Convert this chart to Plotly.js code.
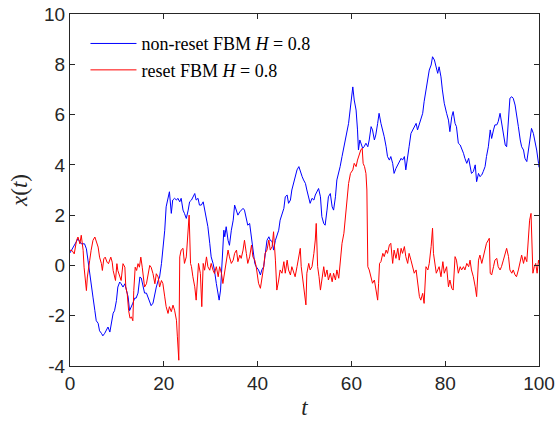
<!DOCTYPE html>
<html>
<head>
<meta charset="utf-8">
<script src="https://cdn.plot.ly/plotly-3.0.1.min.js"></script>
<style>html,body{margin:0;padding:0;background:#fff;}#chart{width:560px;height:430px;}</style>
</head>
<body>
<div id="chart"></div>
<script>
// non-reset FBM (blue)
const blueX = [0,0.3,1.0,1.7,2.4,3.1,3.5,3.8,4.2,4.5,4.9,5.3,5.6,6.0,6.3,6.7,7.0,7.4,7.7,8.1,8.5,8.8,9.2,9.5,9.9,10.2,10.6,10.9,11.3,11.7,12.0,12.4,12.7,13.1,13.4,13.8,14.1,14.5,14.9,15.2,15.6,15.9,16.3,16.6,17.0,17.3,17.7,18.1,18.4,18.8,19.1,19.5,
19.8,20.2,20.5,20.9,21.2,21.6,21.9,22.3,22.7,23.0,23.4,23.7,24.1,24.4,24.8,25.2,25.5,25.9,26.2,26.6,26.9,27.3,27.6,28.0,28.4,28.7,29.1,29.4,29.8,30.1,30.5,30.8,31.2,31.6,31.8,32.1,32.3,32.6,32.8,33.0,33.3,33.7,34.0,34.4,34.8,35.1,35.5,35.8,36.2,36.5,36.9,37.2,37.6,37.9,38.3,38.7,39.0,39.4,39.7,
40.2,40.6,40.9,41.3,41.6,42.0,42.4,42.7,43.1,43.4,43.8,44.1,44.5,44.8,45.2,45.6,45.9,46.3,46.6,47.0,47.3,47.7,48.0,48.4,48.8,49.1,49.5,49.8,50.2,50.5,50.9,51.2,51.6,52.0,52.3,52.7,53.0,53.4,53.7,54.1,54.4,54.8,55.1,55.5,55.9,56.2,56.6,56.9,57.3,57.6,58.0,58.4,58.7,59.1,59.4,59.8,
60.3,60.6,61.0,61.3,61.5,61.8,62.0,62.4,62.7,63.1,63.5,63.8,64.2,64.5,64.9,65.2,65.6,65.9,66.3,66.7,67.0,67.4,67.7,68.1,68.4,68.8,69.1,69.5,69.9,70.2,70.6,70.9,71.3,71.6,72.0,72.3,72.7,73.1,73.4,73.8,74.1,74.5,74.8,75.2,75.5,75.9,76.3,76.6,77.0,77.3,77.7,78.0,78.4,78.7,79.1,79.4,79.8,
80.3,80.7,81.0,81.4,81.7,82.1,82.4,82.8,83.2,83.5,83.9,84.2,84.6,85.0,85.3,85.6,86.0,86.4,86.7,87.1,87.4,87.8,88.1,88.5,88.8,89.2,89.6,89.9,90.3,90.6,91.0,91.3,91.7,92.0,92.4,92.8,93.1,93.5,93.8,94.2,94.5,94.9,95.2,95.6,96.0,96.3,96.7,97.0,97.4,97.7,98.1,98.4,98.8,99.1,99.5,99.9,100];
const blueY = [0.5,0.6,0.8,1.06,0.86,0.86,0.66,0.2,-0.2,-0.73,-1.26,-1.8,-2.2,-2.3,-2.6,-2.7,-2.8,-2.7,-2.6,-2.45,-2.65,-2.3,-1.9,-1.8,-1.4,-0.86,-0.66,-0.73,-0.86,-0.73,-1.0,-1.26,-1.8,-1.66,-1.5,-1.3,-1.3,-1.1,-0.46,-0.5,-0.86,-1.1,-1.1,-1.26,-1.46,-1.6,-1.5,-1.1,-0.86,-0.6,-0.46,0.07,
0.54,1.4,2.33,2.73,2.93,2.07,2.6,2.67,2.6,2.67,2.53,2.67,2.2,2.07,1.87,2.2,2.53,2.6,2.73,2.86,2.6,2.67,2.4,2.4,2.53,2.2,1.87,1.54,0.88,0.34,0.08,-0.19,-0.72,-1.25,-1.38,-0.98,-0.19,1.0,1.4,1.14,1.54,1.0,0.8,1.4,1.8,2.4,2.2,2.0,2.13,2.2,2.27,2.2,1.8,1.6,1.67,1.14,0.61,0.08,-0.05,
-0.18,-0.38,-0.18,-0.05,0.48,1.0,1.14,1.0,0.95,0.61,1.0,1.14,1.4,1.8,2.07,2.27,2.73,2.8,2.47,2.6,3.0,3.26,3.53,3.8,3.93,3.73,3.53,3.4,3.26,3.0,2.67,2.47,2.67,2.6,2.8,2.93,3.06,2.73,1.94,1.67,1.6,2.2,2.73,2.86,2.33,2.2,2.73,3.4,3.66,3.93,4.33,4.73,5.0,5.38,5.65,6.3,
7.1,6.58,6.18,5.39,4.59,4.99,4.86,4.66,4.72,4.86,4.72,4.99,5.52,5.39,4.99,5.19,5.65,6.05,5.65,5.39,5.12,4.72,4.33,4.19,4.33,4.06,3.66,3.86,4.0,4.06,4.26,4.19,4.33,3.8,4.46,4.72,5.25,5.39,5.52,5.65,5.39,5.65,5.78,6.05,6.51,6.98,7.37,7.77,7.97,8.3,8.17,7.97,7.64,7.9,7.5,6.98,6.45,
6.05,5.78,5.32,5.92,6.12,5.65,5.52,4.86,4.79,4.66,4.46,4.26,4.06,4.26,3.93,3.66,3.73,4.0,3.33,3.66,3.53,3.6,3.73,3.93,4.33,4.72,5.39,5.05,5.39,5.59,5.59,5.72,6.05,5.65,5.25,4.79,4.72,5.92,6.65,6.71,6.65,6.38,6.05,5.52,4.99,4.72,4.59,4.26,4.13,4.59,4.99,5.45,5.25,4.99,4.59,4.06,3.9];

// reset FBM (red)
const redX = [0,0.4,0.9,1.4,1.7,2.1,2.4,2.8,3.0,3.3,3.5,3.7,4.0,4.2,4.5,4.9,5.3,5.6,6.0,6.3,6.7,6.9,7.2,7.5,7.9,8.2,8.7,9.0,9.2,9.7,10.0,10.2,10.6,10.9,11.3,11.7,11.9,12.2,12.5,12.8,13.1,13.4,13.6,13.9,14.2,14.5,14.8,15.1,15.4,15.6,15.9,16.3,16.6,17.0,17.3,17.7,18.1,18.4,18.8,19.1,19.5,
19.8,20.2,20.5,20.9,21.2,21.6,21.96,22.3,22.7,22.9,23.2,23.4,23.7,24.1,24.4,24.8,25.2,25.4,25.7,25.9,26.2,26.6,26.9,27.1,27.4,27.8,28.1,28.4,28.7,29.1,29.4,29.8,30.1,30.5,30.8,31.2,31.6,31.9,32.3,32.6,33.0,33.3,33.7,34.0,34.4,34.8,35.1,35.5,35.8,36.2,36.5,36.9,37.2,37.6,37.9,38.3,38.7,39.0,39.4,39.7,
40.2,40.6,40.9,41.3,41.6,42.0,42.4,42.7,43.1,43.4,43.8,44.1,44.5,44.8,45.2,45.6,45.9,46.3,46.6,47.0,47.3,47.7,48.0,48.4,48.8,49.1,49.3,49.6,50.0,50.3,50.5,50.9,51.2,51.6,52.0,52.3,52.5,52.8,53.1,53.4,53.7,54.1,54.4,54.8,55.1,55.5,55.9,56.2,56.6,56.9,57.3,57.6,58.0,58.4,58.7,59.1,59.4,59.8,
60.3,60.6,61.0,61.3,61.7,62.0,62.3,62.5,62.8,63.1,63.3,63.5,63.8,64.2,64.5,64.9,65.2,65.6,65.8,66.0,66.3,66.7,67.0,67.4,67.7,68.1,68.4,68.8,69.1,69.5,69.9,70.2,70.6,70.9,71.3,71.6,72.0,72.3,72.7,73.1,73.4,73.8,74.1,74.5,74.8,75.2,75.5,75.9,76.3,76.6,77.0,77.3,77.5,77.8,78.1,78.4,78.7,79.1,79.5,79.8,
80.3,80.7,81.0,81.4,81.7,82.1,82.4,82.8,83.2,83.5,83.9,84.2,84.6,85.0,85.3,85.6,86.0,86.4,86.7,87.1,87.4,87.8,88.1,88.5,88.8,89.2,89.4,89.6,89.9,90.3,90.6,91.0,91.3,91.7,92.0,92.4,92.8,93.1,93.5,93.8,94.2,94.5,94.9,95.2,95.6,96.0,96.3,96.7,97.0,97.4,97.7,98.0,98.3,98.5,98.7,99.0,99.3,99.6,99.9,100];
const redY = [0.6,0.6,0.46,1.0,1.13,0.86,1.2,0.6,-0.07,-0.73,-1.0,-0.46,0.07,0.2,0.6,1.0,1.13,0.93,0.73,0.33,0.07,-0.2,0.26,0.33,0.13,0.07,0.33,0.13,-0.2,-0.6,0.07,-0.2,-0.46,-0.6,0.07,-0.07,-0.86,-1.13,-1.8,-2.1,-2.05,-2.2,-1.0,-0.07,-0.2,0.07,-0.07,0.33,-0.07,-0.46,-0.86,-0.73,-0.46,0.0,-0.07,-0.33,-0.73,-0.33,-0.46,-0.86,-0.6,
-0.72,-1.25,-1.64,-1.91,-1.64,-1.84,-1.58,-1.78,-2.18,-2.84,-3.77,0.34,0.61,0.68,0.08,0.34,1.4,2.0,0.08,-0.05,-0.45,-0.85,-1.38,-0.85,0.08,-0.32,-1.64,0.08,-0.19,0.34,-0.05,-0.19,0.08,-0.19,-0.32,-0.05,-0.45,-0.05,-0.32,-0.72,-0.19,0.21,0.61,0.34,0.08,0.21,0.48,0.61,0.15,0.41,0.28,0.61,1.0,0.48,0.08,0.34,0.81,0.34,0.21,-0.05,
-0.71,-0.91,-0.58,-0.05,0.48,0.61,1.01,0.61,0.75,1.34,0.21,-0.98,-0.58,-0.18,-0.31,0.15,-0.31,0.21,-0.18,-0.38,-0.05,-0.31,-0.45,-0.05,0.41,0.68,-0.05,-0.58,-1.11,-1.57,-0.31,0.08,-0.18,-0.05,0.48,1.01,1.67,-0.05,-0.45,-0.98,-0.58,-0.05,-0.45,-0.18,-0.58,-0.31,-0.65,-0.31,-0.58,-0.18,-0.51,0.21,0.88,1.28,1.8,2.6,3.26,3.66,
3.8,4.06,3.93,4.19,4.46,4.59,4.66,4.06,3.93,3.66,3.0,-0.05,-0.18,-0.45,-0.71,-0.58,-0.98,-1.38,-0.71,0.08,0.15,0.48,0.35,0.61,0.48,0.81,0.88,0.08,0.61,0.28,0.68,0.21,0.68,0.48,0.75,0.35,0.08,0.48,0.21,-0.05,-0.31,-0.18,-0.71,-1.24,-1.38,-1.11,-1.51,-0.05,-0.18,0.08,0.75,1.48,0.48,0.08,-0.31,-0.18,-0.05,-0.45,0.15,-0.31,
-0.05,-0.85,-0.58,-0.91,-0.98,0.35,0.21,-0.31,-0.05,-0.18,-0.05,-0.18,0.08,-0.05,0.21,-0.18,-0.45,-0.85,-1.24,0.21,0.41,0.08,0.35,0.61,0.88,1.01,1.08,-0.31,-0.38,-0.05,0.21,0.28,-0.05,-0.18,-0.05,0.21,0.48,0.68,0.35,-0.18,-0.31,-0.18,-0.38,-0.45,-0.18,0.21,0.41,0.08,0.35,0.15,1.01,1.8,2.07,1.01,-0.31,-0.05,0.08,-0.31,0.21,0.1];

const seriesNames = ['non-reset FBM <i>H</i> = 0.8', 'reset FBM <i>H</i> = 0.8'];
const xTickVals = [0, 20, 40, 60, 80, 100];
const xTickText = ['0', '20', '40', '60', '80', '100'];
const yTickVals = [-4, -2, 0, 2, 4, 6, 8, 10];
const yTickText = ['-4', '-2', '0', '2', '4', '6', '8', '10'];

const axisColor = '#262626';
const tickFont = {family: 'Liberation Sans, Arial, sans-serif', size: 19, color: axisColor};

const traces = [
  {x: blueX, y: blueY, type: 'scatter', mode: 'lines', name: seriesNames[0], line: {color: '#0000ff', width: 1}},
  {x: redX, y: redY, type: 'scatter', mode: 'lines', name: seriesNames[1], line: {color: '#ff0000', width: 1}}
];

const layout = {
  width: 560, height: 430,
  margin: {l: 70, r: 21, t: 14, b: 64},
  paper_bgcolor: '#fff', plot_bgcolor: '#fff',
  showlegend: true,
  legend: {
    x: 0.033, y: 0.968, xanchor: 'left', yanchor: 'top',
    bgcolor: 'rgba(0,0,0,0)', borderwidth: 0,
    font: {family: 'Liberation Serif, Times New Roman, serif', size: 18, color: '#000'},
    itemwidth: 46, tracegroupgap: 0
  },
  xaxis: {
    range: [0, 100], tickvals: xTickVals, ticktext: xTickText,
    ticks: 'inside', ticklen: 5, tickcolor: axisColor, tickwidth: 1,
    showline: true, linecolor: axisColor, linewidth: 1, mirror: 'ticks',
    showgrid: false, zeroline: false, tickfont: tickFont,
    title: {text: '<i>t</i>', font: {family: 'Liberation Serif, Times New Roman, serif', size: 23, color: axisColor}, standoff: 6}
  },
  yaxis: {
    range: [-4, 10], tickvals: yTickVals, ticktext: yTickText,
    ticks: 'inside', ticklen: 5, tickcolor: axisColor, tickwidth: 1,
    showline: true, linecolor: axisColor, linewidth: 1, mirror: 'ticks',
    showgrid: false, zeroline: false, tickfont: tickFont,
    title: {text: '<i>x</i>(<i>t</i>)', font: {family: 'Liberation Serif, Times New Roman, serif', size: 23, color: axisColor}, standoff: 10}
  }
};

Plotly.newPlot('chart', traces, layout, {displayModeBar: false, staticPlot: true});
</script>
</body>
</html>
